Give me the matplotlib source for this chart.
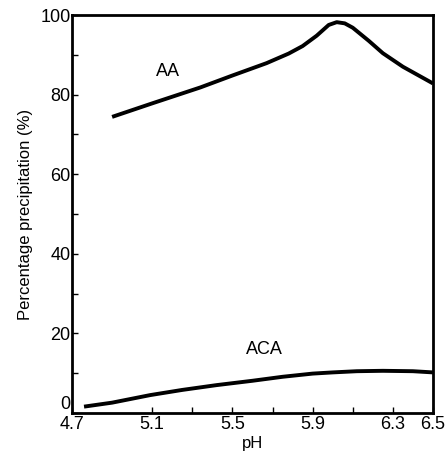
import matplotlib.pyplot as plt

plt.rcParams['font.family'] = ['Liberation Sans', 'DejaVu Sans']

# AA curve
ph_aa = [4.90, 5.10, 5.34, 5.50, 5.67, 5.78, 5.85, 5.92, 5.98, 6.02, 6.06, 6.10, 6.18, 6.25, 6.35, 6.50]
prec_aa = [74.4, 77.8, 81.8, 84.8, 87.9, 90.3, 92.2, 94.8, 97.5, 98.2, 97.9, 96.8, 93.5, 90.4, 87.0, 82.8]

# ACA curve
ph_aca = [4.76, 4.90, 5.09, 5.25, 5.42, 5.60, 5.75, 5.90, 6.00, 6.12, 6.25, 6.40, 6.50]
prec_aca = [1.6, 2.6, 4.5, 5.8, 7.0, 8.1, 9.1, 9.9, 10.2, 10.5, 10.6, 10.5, 10.2]

xticks = [4.7, 5.1, 5.5, 5.9, 6.3, 6.5]
xminor = [5.3, 5.7, 6.1]
yticks = [0, 20, 40, 60, 80, 100]
yminor = [10, 30, 50, 70, 90]

fig = plt.figure(figsize=(4.48, 4.67), dpi=100)
ax = fig.add_axes([72/448, 1 - 413/467, 361/448, 398/467])

ax.plot(ph_aa, prec_aa, color='black', lw=2.8, solid_capstyle='butt')
ax.plot(ph_aca, prec_aca, color='black', lw=2.8, solid_capstyle='butt')

ax.text(5.18, 85.7, 'AA', fontsize=13, ha='center', va='center')
ax.text(5.66, 16, 'ACA', fontsize=13, ha='center', va='center')

ax.set_xlim(4.7, 6.5)
ax.set_ylim(0, 100)
ax.set_xticks(xticks)
ax.set_xticklabels([str(t) for t in xticks])
ax.set_xticks(xminor, minor=True)
ax.set_yticks(yticks)
ax.set_yticks(yminor, minor=True)

ax.tick_params(axis='both', which='both', direction='in', labelsize=13)
ax.tick_params(axis='x', pad=2)
ax.tick_params(axis='y', pad=1)
ax.tick_params(which='major', length=4, width=1)
ax.tick_params(which='minor', length=4, width=1)
ax.get_yticklabels()[0].set_va('bottom')

for s in ax.spines.values():
    s.set_linewidth(2)

ax.set_xlabel('pH', fontsize=12, labelpad=2)
ax.set_ylabel('Percentage precipitation (%)', fontsize=12, labelpad=5)

plt.savefig('out.png', dpi=100)
